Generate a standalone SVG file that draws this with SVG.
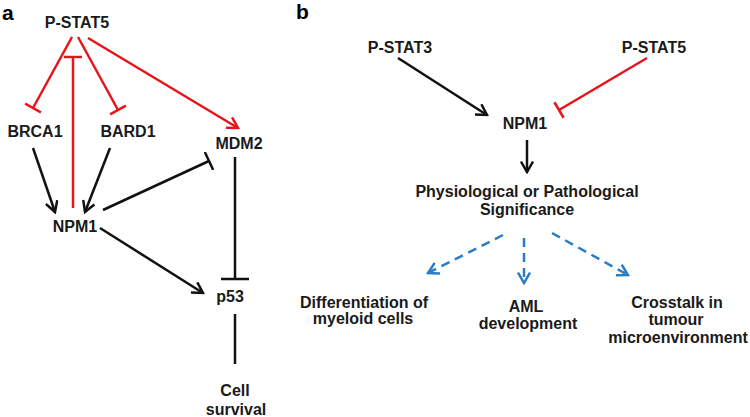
<svg xmlns="http://www.w3.org/2000/svg" width="750" height="417" viewBox="0 0 750 417">
<style>
text{font-family:"Liberation Sans",Arial,sans-serif;font-weight:bold;font-size:16px;fill:#1a1a1a;text-anchor:middle}
.lbl{font-size:21px;text-anchor:start;fill:#000}
.k{stroke:#111;stroke-width:2.5;fill:none}
.r{stroke:#e8141b;stroke-width:2.5;fill:none}
.bl{stroke:#2a7cc4;stroke-width:2.5;fill:none;stroke-dasharray:9 6}
</style>
<defs>
<marker id="ak" viewBox="0 0 14 14" refX="12" refY="7" markerWidth="14" markerHeight="14" markerUnits="userSpaceOnUse" orient="auto"><path d="M1.5,1 L12,7 L1.5,13" fill="none" stroke="#111" stroke-width="2.5"/></marker>
<marker id="ar" viewBox="0 0 14 14" refX="12" refY="7" markerWidth="14" markerHeight="14" markerUnits="userSpaceOnUse" orient="auto"><path d="M1.5,1 L12,7 L1.5,13" fill="none" stroke="#e8141b" stroke-width="2.5"/></marker>
<marker id="ab" viewBox="0 0 14 14" refX="12" refY="7" markerWidth="14" markerHeight="14" markerUnits="userSpaceOnUse" orient="auto"><path d="M1.5,1 L12,7 L1.5,13" fill="none" stroke="#2a7cc4" stroke-width="2.5"/></marker>
<marker id="tk" viewBox="0 0 4 20" refX="2" refY="10" markerWidth="4" markerHeight="20" markerUnits="userSpaceOnUse" orient="auto"><path d="M2,0 L2,20" stroke="#111" stroke-width="2.5"/></marker>
<marker id="tkw" viewBox="0 0 4 28" refX="2" refY="14" markerWidth="4" markerHeight="28" markerUnits="userSpaceOnUse" orient="auto"><path d="M2,0 L2,28" stroke="#111" stroke-width="2.5"/></marker>
<marker id="tr" viewBox="0 0 4 20" refX="2" refY="10" markerWidth="4" markerHeight="20" markerUnits="userSpaceOnUse" orient="auto"><path d="M2,1 L2,19" stroke="#e8141b" stroke-width="2.5"/></marker>
</defs>
<text class="lbl" x="2" y="20">a</text>
<text class="lbl" x="296" y="19">b</text>
<g id="connectors">
<line class="r" x1="72" y1="37" x2="33" y2="108" marker-end="url(#tr)"/>
<line class="r" x1="78" y1="37" x2="118" y2="110" marker-end="url(#tr)"/>
<line class="r" x1="73" y1="208" x2="73" y2="57" marker-end="url(#tr)"/>
<line class="r" x1="88" y1="38" x2="238" y2="128" marker-end="url(#ar)"/>
<line class="k" x1="33" y1="148" x2="55" y2="212" marker-end="url(#ak)"/>
<line class="k" x1="110" y1="148" x2="85" y2="212" marker-end="url(#ak)"/>
<line class="k" x1="103" y1="210" x2="209" y2="161" marker-end="url(#tk)"/>
<line class="k" x1="100" y1="228" x2="203" y2="293" marker-end="url(#ak)"/>
<line class="k" x1="235" y1="157" x2="235" y2="279" marker-end="url(#tkw)"/>
<line class="k" x1="235" y1="314" x2="235" y2="364"/>
<line class="k" x1="398" y1="58" x2="487" y2="115" marker-end="url(#ak)"/>
<line class="r" x1="647" y1="58" x2="559" y2="110" marker-end="url(#tr)"/>
<line class="k" x1="527" y1="140" x2="527" y2="172" marker-end="url(#ak)"/>
<line class="bl" x1="503" y1="235" x2="428" y2="273" marker-end="url(#ab)"/>
<line class="bl" x1="524" y1="238" x2="524" y2="283" marker-end="url(#ab)"/>
<line class="bl" x1="552" y1="233" x2="628" y2="275" marker-end="url(#ab)"/>
</g>
<g id="pstat5a"><text x="77" y="28">P-STAT5</text></g>
<g id="brca1"><text x="35" y="137">BRCA1</text></g>
<g id="bard1"><text x="128" y="137">BARD1</text></g>
<g id="mdm2"><text x="239" y="149">MDM2</text></g>
<g id="npm1a"><text x="75" y="232">NPM1</text></g>
<g id="p53"><text x="230" y="302">p53</text></g>
<g id="cellsurvival"><text x="235" y="396">Cell</text><text x="236" y="415">survival</text></g>
<g id="pstat3b"><text x="400" y="53">P-STAT3</text></g>
<g id="pstat5b"><text x="654" y="53">P-STAT5</text></g>
<g id="npm1b"><text x="525" y="129">NPM1</text></g>
<g id="significance"><text x="527" y="197">Physiological or Pathological</text><text x="527" y="215">Significance</text></g>
<g id="differentiation"><text x="364" y="308">Differentiation of</text><text x="363" y="324">myeloid cells</text></g>
<g id="aml"><text x="526" y="312">AML</text><text x="528" y="329">development</text></g>
<g id="crosstalk"><text x="677" y="308">Crosstalk in</text><text x="676" y="325">tumour</text><text x="678" y="343">microenvironment</text></g>
</svg>
